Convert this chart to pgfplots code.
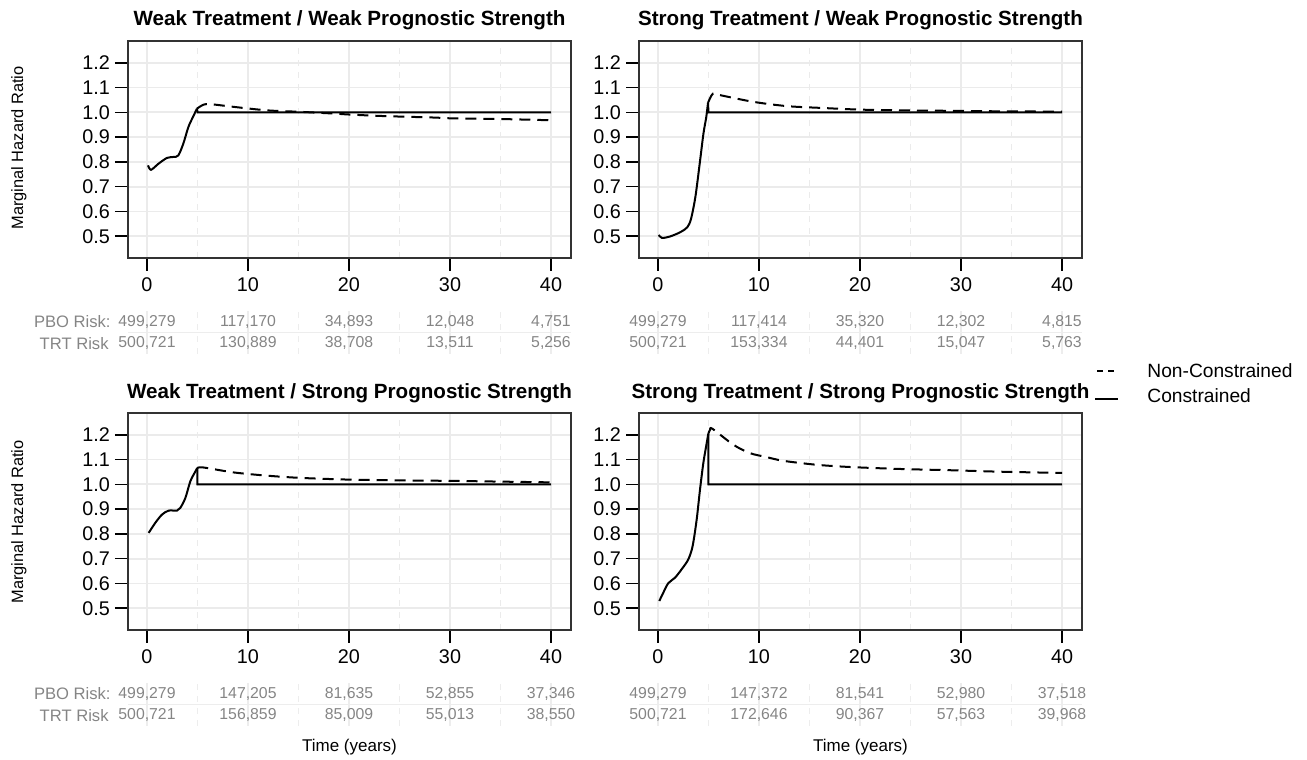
\documentclass[border=0pt]{standalone}
\usepackage{fontspec}
\setmainfont{Liberation Sans}
\usepackage{pgfplots}
\pgfplotsset{compat=1.18}

\newcommand\tickfont{\fontsize{9.9}{11}\selectfont}
\newcommand\titlefont{\fontsize{10.3}{12}\selectfont\bfseries}
\newcommand\riskfont{\fontsize{7.9}{9}\selectfont}
\newcommand\rowfont{\fontsize{8.3}{9}\selectfont}
\colorlet{riskgray}{black!48}

\pgfplotsset{
  hrpanel/.style={
    scale only axis, width=221.5pt, height=108.5pt,
    xmin=-1.88, xmax=41.98, ymin=0.412, ymax=1.288,
    xtick={0,10,20,30,40}, minor xtick={5,15,25,35},
    ytick={0.5,0.6,0.7,0.8,0.9,1.0,1.1,1.2},
    yticklabel style={/pgf/number format/fixed,
      /pgf/number format/fixed zerofill,
      /pgf/number format/precision=1, xshift=1pt},
    /pgf/number format/assume math mode=true,
    ticklabel style={font=\tickfont},
    tick align=outside, tick pos=left,
    major tick length=6.5pt, minor tick length=0pt,
    every tick/.style={black, line width=0.8pt},
    axis line style={draw=black!80, line width=0.8pt},
    xmajorgrids, xminorgrids, ymajorgrids,
    major grid style={draw=black!8, line width=0.9pt},
    minor grid style={draw=black!8, dashed, line width=0.6pt},
  },
  risktab/.style={
    scale only axis, width=221.5pt, height=21.5pt,
    xmin=-1.88, xmax=41.98, ymin=0, ymax=2,
    xtick={0,10,20,30,40}, minor xtick={5,15,25,35}, ytick={1},
    xticklabels={}, yticklabels={},
    major tick length=0pt, minor tick length=0pt,
    axis line style={draw=none},
    xmajorgrids, xminorgrids, ymajorgrids,
    major grid style={draw=black!7, line width=0.9pt},
    minor grid style={draw=black!7, dashed, line width=0.6pt},
    clip=false,
  },
  cons/.style={black, line width=1pt},
  noncons/.style={black, line width=1pt, dash pattern=on 5.5pt off 3.5pt},
  risknums/.style={only marks, mark=none, nodes near coords,
    point meta=explicit symbolic,
    every node near coord/.style={anchor=center, font=\riskfont, text=riskgray}},
}

\begin{document}
\begin{tikzpicture}[x=0.5pt, y=0.5pt]
\path[use as bounding box] (0,0) rectangle (1307,760);

% ---------- top left ----------
\begin{axis}[hrpanel, at={(64pt,251pt)}, anchor=south west]
\addplot[cons, smooth] coordinates {(0.1,0.786) (0.4,0.768) (1.15,0.793) (1.98,0.816) (2.64,0.820) (3.1,0.826) (3.6,0.874) (4.1,0.941) (4.55,0.981) (4.95,1.015)};
\addplot[cons] coordinates {(4.95,1.015) (5,1.0) (40,1.0)};
\addplot[noncons, smooth] coordinates {(4.95,1.015) (5.6,1.031) (6.3,1.033) (8.6,1.022) (11.9,1.008) (15.2,1.002) (18.5,0.995) (20.1,0.991) (23.4,0.985) (28.4,0.979) (30,0.976) (35,0.973) (40,0.968)};
\end{axis}
\begin{axis}[risktab, at={(64pt,203pt)}, anchor=south west]
\addplot[risknums] table[x=t, y=r, meta=v] {
t r v
0 1.5 499,279
10 1.5 117,170
20 1.5 34,893
30 1.5 12,048
40 1.5 4,751
0 0.5 500,721
10 0.5 130,889
20 0.5 38,708
30 0.5 13,511
40 0.5 5,256
};
\node[anchor=east, inner sep=0, font=\rowfont, text=riskgray, xshift=-8.5pt] at (rel axis cs:0,0.75) {PBO Risk:};
\node[anchor=east, inner sep=0, font=\rowfont, text=riskgray, xshift=-9.5pt] at (rel axis cs:0,0.25) {TRT Risk};
\end{axis}

% ---------- top right ----------
\begin{axis}[hrpanel, at={(319.5pt,251pt)}, anchor=south west]
\addplot[cons, smooth] coordinates {(0.07,0.505) (0.4,0.493) (1.2,0.499) (2.2,0.516) (2.9,0.536) (3.27,0.570) (3.7,0.658) (4.13,0.793) (4.5,0.914) (4.78,0.981) (4.95,1.038)};
\addplot[cons] coordinates {(4.95,1.038) (5,1.0) (40,1.0)};
\addplot[noncons, smooth] coordinates {(4.95,1.038) (5.45,1.076) (6.2,1.069) (9.5,1.042) (12.8,1.025) (16.1,1.018) (20,1.011) (24.3,1.008) (29.3,1.006) (34.2,1.004) (40,1.003)};
\end{axis}
\begin{axis}[risktab, at={(319.5pt,203pt)}, anchor=south west]
\addplot[risknums] table[x=t, y=r, meta=v] {
t r v
0 1.5 499,279
10 1.5 117,414
20 1.5 35,320
30 1.5 12,302
40 1.5 4,815
0 0.5 500,721
10 0.5 153,334
20 0.5 44,401
30 0.5 15,047
40 0.5 5,763
};
\end{axis}

% ---------- bottom left ----------
\begin{axis}[hrpanel, at={(64pt,65pt)}, anchor=south west]
\addplot[cons, smooth] coordinates {(0.17,0.804) (0.83,0.845) (1.49,0.878) (2.15,0.894) (2.97,0.894) (3.3,0.905) (3.8,0.945) (4.29,1.012) (4.79,1.052) (4.98,1.066)};
\addplot[cons] coordinates {(4.98,1.066) (5,1.0) (40,1.0)};
\addplot[noncons, smooth] coordinates {(4.98,1.066) (5.6,1.068) (8.6,1.048) (11.9,1.035) (15.2,1.026) (20.1,1.019) (25.1,1.016) (30,1.014) (35,1.011) (40,1.008)};
\end{axis}
\begin{axis}[risktab, at={(64pt,17pt)}, anchor=south west]
\addplot[risknums] table[x=t, y=r, meta=v] {
t r v
0 1.5 499,279
10 1.5 147,205
20 1.5 81,635
30 1.5 52,855
40 1.5 37,346
0 0.5 500,721
10 0.5 156,859
20 0.5 85,009
30 0.5 55,013
40 0.5 38,550
};
\node[anchor=east, inner sep=0, font=\rowfont, text=riskgray, xshift=-8.5pt] at (rel axis cs:0,0.75) {PBO Risk:};
\node[anchor=east, inner sep=0, font=\rowfont, text=riskgray, xshift=-9.5pt] at (rel axis cs:0,0.25) {TRT Risk};
\end{axis}

% ---------- bottom right ----------
\begin{axis}[hrpanel, at={(319.5pt,65pt)}, anchor=south west]
\addplot[cons, smooth] coordinates {(0.13,0.529) (0.53,0.563) (1.02,0.601) (1.68,0.623) (2.34,0.657) (3.0,0.697) (3.43,0.751) (3.83,0.858) (4.16,0.979) (4.49,1.086) (4.82,1.166) (4.98,1.204)};
\addplot[cons] coordinates {(4.98,1.204) (5,1.0) (40,1.0)};
\addplot[noncons, smooth] coordinates {(4.98,1.204) (5.15,1.22) (5.4,1.224) (7.46,1.16) (9.1,1.126) (10.76,1.11) (12.4,1.095) (15.7,1.079) (19,1.07) (24,1.062) (28.9,1.057) (33.9,1.051) (40,1.046)};
\end{axis}
\begin{axis}[risktab, at={(319.5pt,17pt)}, anchor=south west]
\addplot[risknums] table[x=t, y=r, meta=v] {
t r v
0 1.5 499,279
10 1.5 147,372
20 1.5 81,541
30 1.5 52,980
40 1.5 37,518
0 0.5 500,721
10 0.5 172,646
20 0.5 90,367
30 0.5 57,563
40 0.5 39,968
};
\end{axis}

% titles and labels
\node[font=\titlefont, anchor=base, inner sep=0] at (349.5,734.6) {Weak Treatment / Weak Prognostic Strength};
\node[font=\titlefont, anchor=base, inner sep=0] at (860.5,734.6) {Strong Treatment / Weak Prognostic Strength};
\node[font=\titlefont, anchor=base, inner sep=0] at (349.5,361.6) {Weak Treatment / Strong Prognostic Strength};
\node[font=\titlefont, anchor=base, inner sep=0] at (860.5,361.6) {Strong Treatment / Strong Prognostic Strength};
\node[font=\fontsize{8.2}{10}\selectfont, rotate=90, inner sep=0] at (19,612) {Marginal Hazard Ratio};
\node[font=\fontsize{8.2}{10}\selectfont, rotate=90, inner sep=0] at (19,238) {Marginal Hazard Ratio};
\node[font=\fontsize{8.5}{10}\selectfont, inner sep=0] at (349.5,13) {Time (years)};
\node[font=\fontsize{8.5}{10}\selectfont, inner sep=0] at (860.5,13) {Time (years)};

% legend
\draw[black, line width=0.8pt, dash pattern=on 3pt off 2.5pt] (1097,389) -- (1114,389);
\node[anchor=west, inner sep=0, font=\fontsize{9.6}{11}\selectfont] at (1147,389) {Non-Constrained};
\draw[black, line width=0.8pt] (1095,361) -- (1118,361);
\node[anchor=west, inner sep=0, font=\fontsize{9.6}{11}\selectfont] at (1147,364) {Constrained};
\end{tikzpicture}
\end{document}
